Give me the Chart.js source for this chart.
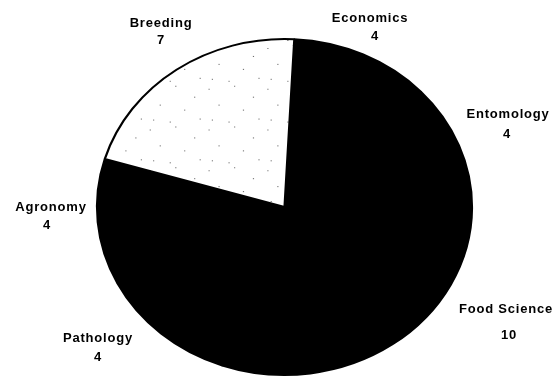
<!DOCTYPE html>
<html>
<head>
<meta charset="utf-8">
<title>Departments</title>
<script src="https://cdn.jsdelivr.net/npm/chart.js@4.4.1/dist/chart.umd.min.js"></script>
<style>
    html, body { margin: 0; padding: 0; background: #fff; }
    #wrap { width: 559px; height: 377px; }
</style>
</head>
<body>
<div id="wrap"><canvas id="deptChart"></canvas></div>
<script>
const departments = ['Economics', 'Entomology', 'Food Science', 'Pathology', 'Agronomy', 'Breeding'];
const counts = [4, 4, 10, 4, 4, 7];

// where each name / count pair sits on the page
const labelSpots = [
    { x: 370, y: 18, x2: 375, y2: 36 },
    { x: 508, y: 114, x2: 507, y2: 134 },
    { x: 506, y: 309, x2: 509, y2: 335 },
    { x: 98, y: 338, x2: 98, y2: 357 },
    { x: 51, y: 207, x2: 47, y2: 225 },
    { x: 161, y: 23, x2: 161, y2: 40 }
];

// sparse stipple for the one pale slice
function stipple() {
    const tile = document.createElement('canvas');
    tile.width = 53;
    tile.height = 41;
    const t = tile.getContext('2d');
    t.fillStyle = '#fff';
    t.fillRect(0, 0, 53, 41);
    t.fillStyle = '#666';
    [[4, 6], [27, 3], [44, 14], [13, 22], [35, 27], [49, 36], [7, 37], [22, 39]].forEach(([x, y]) => {
        t.fillRect(x, y, 1, 1);
    });
    return t.createPattern(tile, 'repeat');
}

// the pie is a little wider than tall
const squash = {
    id: 'squash',
    beforeDatasetsDraw(chart) {
        const arc = chart.getDatasetMeta(0).data[0];
        const ctx = chart.ctx;
        ctx.save();
        ctx.translate(arc.x, arc.y);
        ctx.scale(187.5 / arc.outerRadius, 168 / arc.outerRadius);
        ctx.translate(-arc.x, -arc.y);
    },
    afterDatasetsDraw(chart) {
        chart.ctx.restore();
    }
};

const sliceLabels = {
    id: 'sliceLabels',
    afterDraw(chart) {
        const ctx = chart.ctx;
        ctx.save();
        ctx.fillStyle = '#000';
        ctx.font = 'bold 13px "Liberation Sans", Arial, sans-serif';
        ctx.letterSpacing = '0.8px';
        ctx.textAlign = 'center';
        ctx.textBaseline = 'middle';
        departments.forEach((name, i) => {
            const s = labelSpots[i];
            ctx.fillText(name, s.x, s.y);
            ctx.fillText(String(counts[i]), s.x2, s.y2);
        });
        ctx.restore();
    }
};

const fill = counts.map(() => '#000');
fill[departments.indexOf('Breeding')] = stipple();

new Chart(document.getElementById('deptChart'), {
    type: 'pie',
    data: {
        labels: departments,
        datasets: [{
            data: counts,
            backgroundColor: fill,
            borderColor: '#000',
            borderWidth: 2
        }]
    },
    options: {
        responsive: true,
        maintainAspectRatio: false,
        animation: false,
        rotation: 3,
        layout: {
            padding: { left: 97, right: 87, top: 37, bottom: 0 }
        },
        plugins: {
            legend: { display: false },
            tooltip: { enabled: false }
        }
    },
    plugins: [squash, sliceLabels]
});
</script>
</body>
</html>
